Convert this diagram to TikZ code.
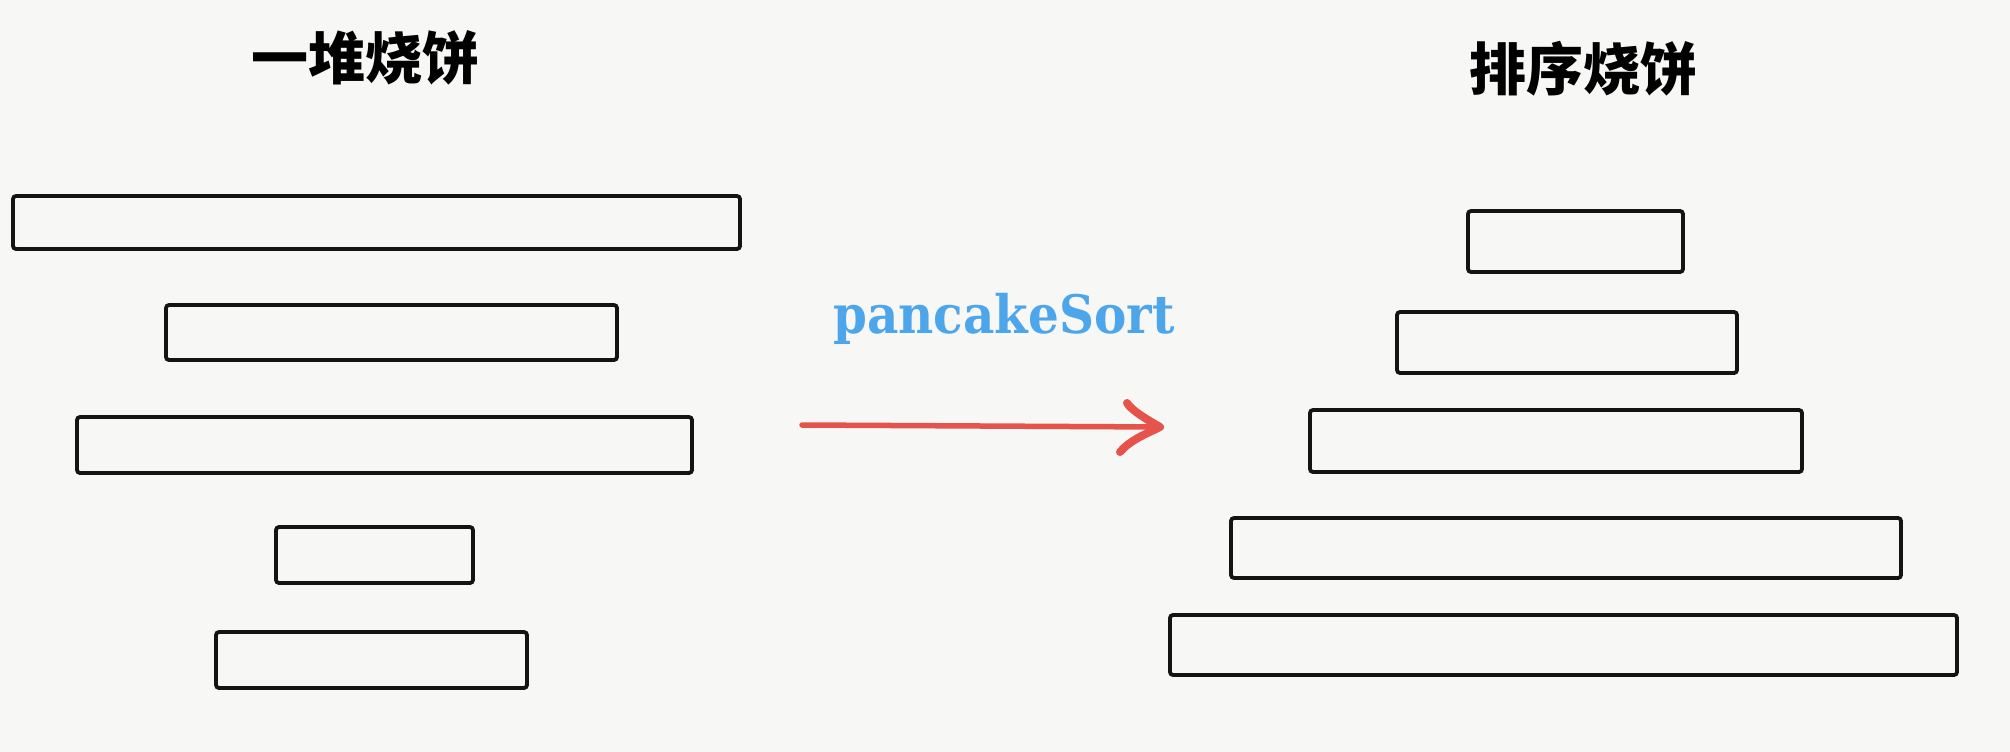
\documentclass[tikz,border=0pt]{standalone}
\usepackage{fontspec}
\newfontfamily\cjk{Noto Sans CJK SC}
\newfontfamily\labelfont{DejaVu Serif}
\usetikzlibrary{arrows.meta}
\definecolor{paper}{HTML}{F7F7F5}
\definecolor{sortblue}{HTML}{4DA6EA}
\definecolor{arrowred}{HTML}{E5534B}
\definecolor{ink}{HTML}{141414}
\tikzset{
  cake/.style={draw=ink, line width=3.8pt, rounded corners=3pt, inner sep=0pt, outer sep=0pt},
  title/.style={font=\cjk\bfseries\fontsize{57}{60}\selectfont, text=black, anchor=base, inner sep=0pt},
  sortlabel/.style={font=\labelfont\bfseries\fontsize{53}{58}\selectfont, text=sortblue, anchor=base, inner sep=0pt},
  arrowline/.style={draw=arrowred, line width=5.5pt, line cap=round},
  arrowhead/.style={draw=arrowred, line width=8pt, line cap=round, line join=round}
}
\begin{document}
\begin{tikzpicture}[x=1pt, y=-1pt]
\fill[paper] (0,0) rectangle (2010,752);
\useasboundingbox (0,0) rectangle (2010,752);
% titles
\node[title] (tl) at (365,79) {一堆烧饼};
\node[title] (tr) at (1583,90) {排序烧饼};
% left stack
\node[cake, minimum width=727pt, minimum height=53pt] (l1) at (376.5,222.5) {};
\node[cake, minimum width=451pt, minimum height=55pt] (l2) at (391.5,332.5) {};
\node[cake, minimum width=615pt, minimum height=56pt] (l3) at (384.5,445) {};
\node[cake, minimum width=197pt, minimum height=56pt] (l4) at (374.5,555) {};
\node[cake, minimum width=311pt, minimum height=56pt] (l5) at (371.5,660) {};
% right stack
\node[cake, minimum width=215pt, minimum height=61pt] (r1) at (1575.5,241.5) {};
\node[cake, minimum width=340pt, minimum height=61pt] (r2) at (1567,342.5) {};
\node[cake, minimum width=492pt, minimum height=62pt] (r3) at (1556,441) {};
\node[cake, minimum width=670pt, minimum height=60pt] (r4) at (1566,548) {};
\node[cake, minimum width=787pt, minimum height=60pt] (r5) at (1563.5,645) {};
% label and arrow
\node[sortlabel] (lab) at (1004,333) {\scalebox{0.915}[1]{pancakeSort}};
\coordinate (as) at (802,425);
\coordinate (ae) at (1160,427);
\draw[arrowline] (as) -- (ae);
\draw[arrowhead] ([shift={(-33,-24)}]ae) .. controls ([shift={(-28,-16)}]ae) and ([shift={(-12,-7)}]ae) .. (ae)
  .. controls ([shift={(-14,7)}]ae) and ([shift={(-30,13)}]ae) .. ([shift={(-40,25)}]ae);
\end{tikzpicture}
\end{document}
